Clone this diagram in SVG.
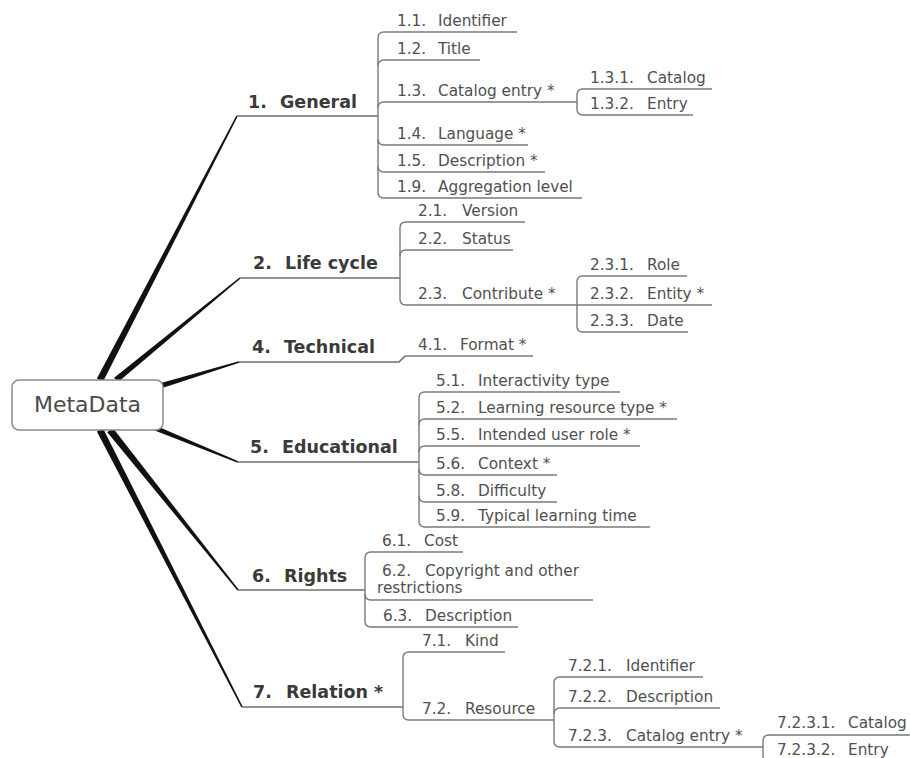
<svg xmlns="http://www.w3.org/2000/svg" width="910" height="758" viewBox="0 0 910 758">
<style>
  .bg { fill: #ffffff; }
  .root-box { fill: #ffffff; stroke: #8a8a8a; stroke-width: 1.5; }
  .root-text { font-family: "DejaVu Sans", Verdana, sans-serif; font-size: 22px; fill: #4a4a4a; text-anchor: middle; }
  .main { font-family: "DejaVu Sans", Verdana, sans-serif; font-size: 17.5px; font-weight: bold; fill: #3a3a3a; }
  .sub { font-family: "DejaVu Sans", Verdana, sans-serif; font-size: 15.3px; fill: #505050; }
  .taper { fill: #111111; }
  .line { fill: none; stroke: #6f6f6f; stroke-width: 1.6; }
  .line2 { fill: none; stroke: #7a7a7a; stroke-width: 1.4; }
</style>
<rect class="bg" x="0" y="0" width="910" height="758"/>

<g id="connectors">
  <!-- tapered main branches -->
  <polygon class="taper" points="96.89,378.39 236.29,115.63 237.71,116.37 103.11,381.61"/>
  <polygon class="taper" points="114.1,377.68 239.49,277.38 240.51,278.62 117.9,382.32"/>
  <polygon class="taper" points="159.27,383.61 238.77,361.23 239.23,362.77 160.73,388.39"/>
  <polygon class="taper" points="155.95,425.69 238.3,461.26 237.7,462.74 154.05,430.31"/>
  <polygon class="taper" points="112.73,427.81 238.62,589.5 237.38,590.5 107.27,432.19"/>
  <polygon class="taper" points="103.12,428.4 242.71,706.64 241.29,707.36 96.88,431.6"/>

  <!-- main topic underlines -->
  <path class="line" d="M237,116 H378"/>
  <path class="line" d="M240,278 H400"/>
  <path class="line" d="M239,362 H399 L405,356"/>
  <path class="line" d="M237,462 H419"/>
  <path class="line" d="M238,590 H365"/>
  <path class="line" d="M242,707 H403"/>

  <!-- 1. General bracket -->
  <path class="line2" d="M378,38 V192"/>
  <path class="line2" d="M378,38 Q378,32 384,32 H517"/>
  <path class="line2" d="M378,66 Q378,60 384,60 H480"/>
  <path class="line2" d="M378,108 Q378,102 384,102 H577"/>
  <path class="line2" d="M378,139 Q378,145 384,145 H528"/>
  <path class="line2" d="M378,166 Q378,172 384,172 H545"/>
  <path class="line2" d="M378,192 Q378,198 384,198 H582"/>
  <!-- 1.3 bracket -->
  <path class="line2" d="M577,95 V109"/>
  <path class="line2" d="M577,95 Q577,89 583,89 H712"/>
  <path class="line2" d="M577,109 Q577,115 583,115 H693"/>

  <!-- 2. Life cycle bracket -->
  <path class="line2" d="M400,228 V299"/>
  <path class="line2" d="M400,228 Q400,222 406,222 H525"/>
  <path class="line2" d="M400,256 Q400,250 406,250 H513"/>
  <path class="line2" d="M400,299 Q400,305 406,305 H577"/>
  <!-- 2.3 bracket -->
  <path class="line2" d="M577,282 V326"/>
  <path class="line2" d="M577,282 Q577,276 583,276 H687"/>
  <path class="line2" d="M577,305 H712"/>
  <path class="line2" d="M577,326 Q577,332 583,332 H688"/>

  <!-- 4. Technical -->
  <path class="line2" d="M405,356 H533"/>

  <!-- 5. Educational bracket -->
  <path class="line2" d="M419,398 V521"/>
  <path class="line2" d="M419,398 Q419,392 425,392 H620"/>
  <path class="line2" d="M419,425 Q419,419 425,419 H677"/>
  <path class="line2" d="M419,452 Q419,446 425,446 H640"/>
  <path class="line2" d="M419,469 Q419,475 425,475 H557"/>
  <path class="line2" d="M419,496 Q419,502 425,502 H557"/>
  <path class="line2" d="M419,521 Q419,527 425,527 H650"/>

  <!-- 6. Rights bracket -->
  <path class="line2" d="M365,558 V621"/>
  <path class="line2" d="M365,558 Q365,552 371,552 H463"/>
  <path class="line2" d="M365,594 Q365,600 371,600 H593"/>
  <path class="line2" d="M365,621 Q365,627 371,627 H518"/>

  <!-- 7. Relation bracket -->
  <path class="line2" d="M403,658 V714"/>
  <path class="line2" d="M403,658 Q403,652 409,652 H505"/>
  <path class="line2" d="M403,714 Q403,720 409,720 H554"/>
  <!-- 7.2 bracket -->
  <path class="line2" d="M554,683 V741"/>
  <path class="line2" d="M554,683 Q554,677 560,677 H703"/>
  <path class="line2" d="M554,714 Q554,708 560,708 H720"/>
  <path class="line2" d="M554,741 Q554,747 560,747 H763"/>
  <!-- 7.2.3 bracket -->
  <path class="line2" d="M763,741 V756"/>
  <path class="line2" d="M763,741 Q763,735 769,735 H910"/>
  <path class="line2" d="M763,756 Q763,762 769,762 H860"/>
</g>

<g id="root">
  <rect class="root-box" x="12" y="380" width="151" height="50" rx="7" ry="7"/>
  <text class="root-text" x="87.5" y="412">MetaData</text>
</g>

<g id="n1"><text class="main" y="108"><tspan x="248">1.</tspan><tspan x="280">General</tspan></text></g>
<g id="n1-1"><text class="sub" y="26"><tspan x="397">1.1.</tspan><tspan x="438">Identifier</tspan></text></g>
<g id="n1-2"><text class="sub" y="54"><tspan x="397">1.2.</tspan><tspan x="438">Title</tspan></text></g>
<g id="n1-3"><text class="sub" y="96"><tspan x="397">1.3.</tspan><tspan x="438">Catalog entry *</tspan></text></g>
<g id="n1-3-1"><text class="sub" y="83"><tspan x="590">1.3.1.</tspan><tspan x="647">Catalog</tspan></text></g>
<g id="n1-3-2"><text class="sub" y="109"><tspan x="590">1.3.2.</tspan><tspan x="647">Entry</tspan></text></g>
<g id="n1-4"><text class="sub" y="139"><tspan x="397">1.4.</tspan><tspan x="438">Language *</tspan></text></g>
<g id="n1-5"><text class="sub" y="166"><tspan x="397">1.5.</tspan><tspan x="438">Description *</tspan></text></g>
<g id="n1-9"><text class="sub" y="192"><tspan x="397">1.9.</tspan><tspan x="438">Aggregation level</tspan></text></g>

<g id="n2"><text class="main" y="269"><tspan x="253">2.</tspan><tspan x="285">Life cycle</tspan></text></g>
<g id="n2-1"><text class="sub" y="216"><tspan x="418">2.1.</tspan><tspan x="462">Version</tspan></text></g>
<g id="n2-2"><text class="sub" y="244"><tspan x="418">2.2.</tspan><tspan x="462">Status</tspan></text></g>
<g id="n2-3"><text class="sub" y="299"><tspan x="418">2.3.</tspan><tspan x="462">Contribute *</tspan></text></g>
<g id="n2-3-1"><text class="sub" y="270"><tspan x="590">2.3.1.</tspan><tspan x="647">Role</tspan></text></g>
<g id="n2-3-2"><text class="sub" y="299"><tspan x="590">2.3.2.</tspan><tspan x="647">Entity *</tspan></text></g>
<g id="n2-3-3"><text class="sub" y="326"><tspan x="590">2.3.3.</tspan><tspan x="647">Date</tspan></text></g>

<g id="n4"><text class="main" y="353"><tspan x="252">4.</tspan><tspan x="284">Technical</tspan></text></g>
<g id="n4-1"><text class="sub" y="350"><tspan x="418">4.1.</tspan><tspan x="460">Format *</tspan></text></g>

<g id="n5"><text class="main" y="453"><tspan x="250">5.</tspan><tspan x="282">Educational</tspan></text></g>
<g id="n5-1"><text class="sub" y="386"><tspan x="436">5.1.</tspan><tspan x="478">Interactivity type</tspan></text></g>
<g id="n5-2"><text class="sub" y="413"><tspan x="436">5.2.</tspan><tspan x="478">Learning resource type *</tspan></text></g>
<g id="n5-5"><text class="sub" y="440"><tspan x="436">5.5.</tspan><tspan x="478">Intended user role *</tspan></text></g>
<g id="n5-6"><text class="sub" y="469"><tspan x="436">5.6.</tspan><tspan x="478">Context *</tspan></text></g>
<g id="n5-8"><text class="sub" y="496"><tspan x="436">5.8.</tspan><tspan x="478">Difficulty</tspan></text></g>
<g id="n5-9"><text class="sub" y="521"><tspan x="436">5.9.</tspan><tspan x="478">Typical learning time</tspan></text></g>

<g id="n6"><text class="main" y="582"><tspan x="252">6.</tspan><tspan x="284">Rights</tspan></text></g>
<g id="n6-1"><text class="sub" y="546"><tspan x="382">6.1.</tspan><tspan x="424">Cost</tspan></text></g>
<g id="n6-2"><text class="sub"><tspan x="382" y="576">6.2.</tspan><tspan x="425" y="576">Copyright and other</tspan><tspan x="377" y="593">restrictions</tspan></text></g>
<g id="n6-3"><text class="sub" y="621"><tspan x="383">6.3.</tspan><tspan x="425">Description</tspan></text></g>

<g id="n7"><text class="main" y="698"><tspan x="253">7.</tspan><tspan x="286">Relation *</tspan></text></g>
<g id="n7-1"><text class="sub" y="646"><tspan x="422">7.1.</tspan><tspan x="465">Kind</tspan></text></g>
<g id="n7-2"><text class="sub" y="714"><tspan x="422">7.2.</tspan><tspan x="465">Resource</tspan></text></g>
<g id="n7-2-1"><text class="sub" y="671"><tspan x="568">7.2.1.</tspan><tspan x="626">Identifier</tspan></text></g>
<g id="n7-2-2"><text class="sub" y="702"><tspan x="568">7.2.2.</tspan><tspan x="626">Description</tspan></text></g>
<g id="n7-2-3"><text class="sub" y="741"><tspan x="568">7.2.3.</tspan><tspan x="626">Catalog entry *</tspan></text></g>
<g id="n7-2-3-1"><text class="sub" y="728"><tspan x="777">7.2.3.1.</tspan><tspan x="848">Catalog</tspan></text></g>
<g id="n7-2-3-2"><text class="sub" y="755"><tspan x="777">7.2.3.2.</tspan><tspan x="848">Entry</tspan></text></g>
</svg>
